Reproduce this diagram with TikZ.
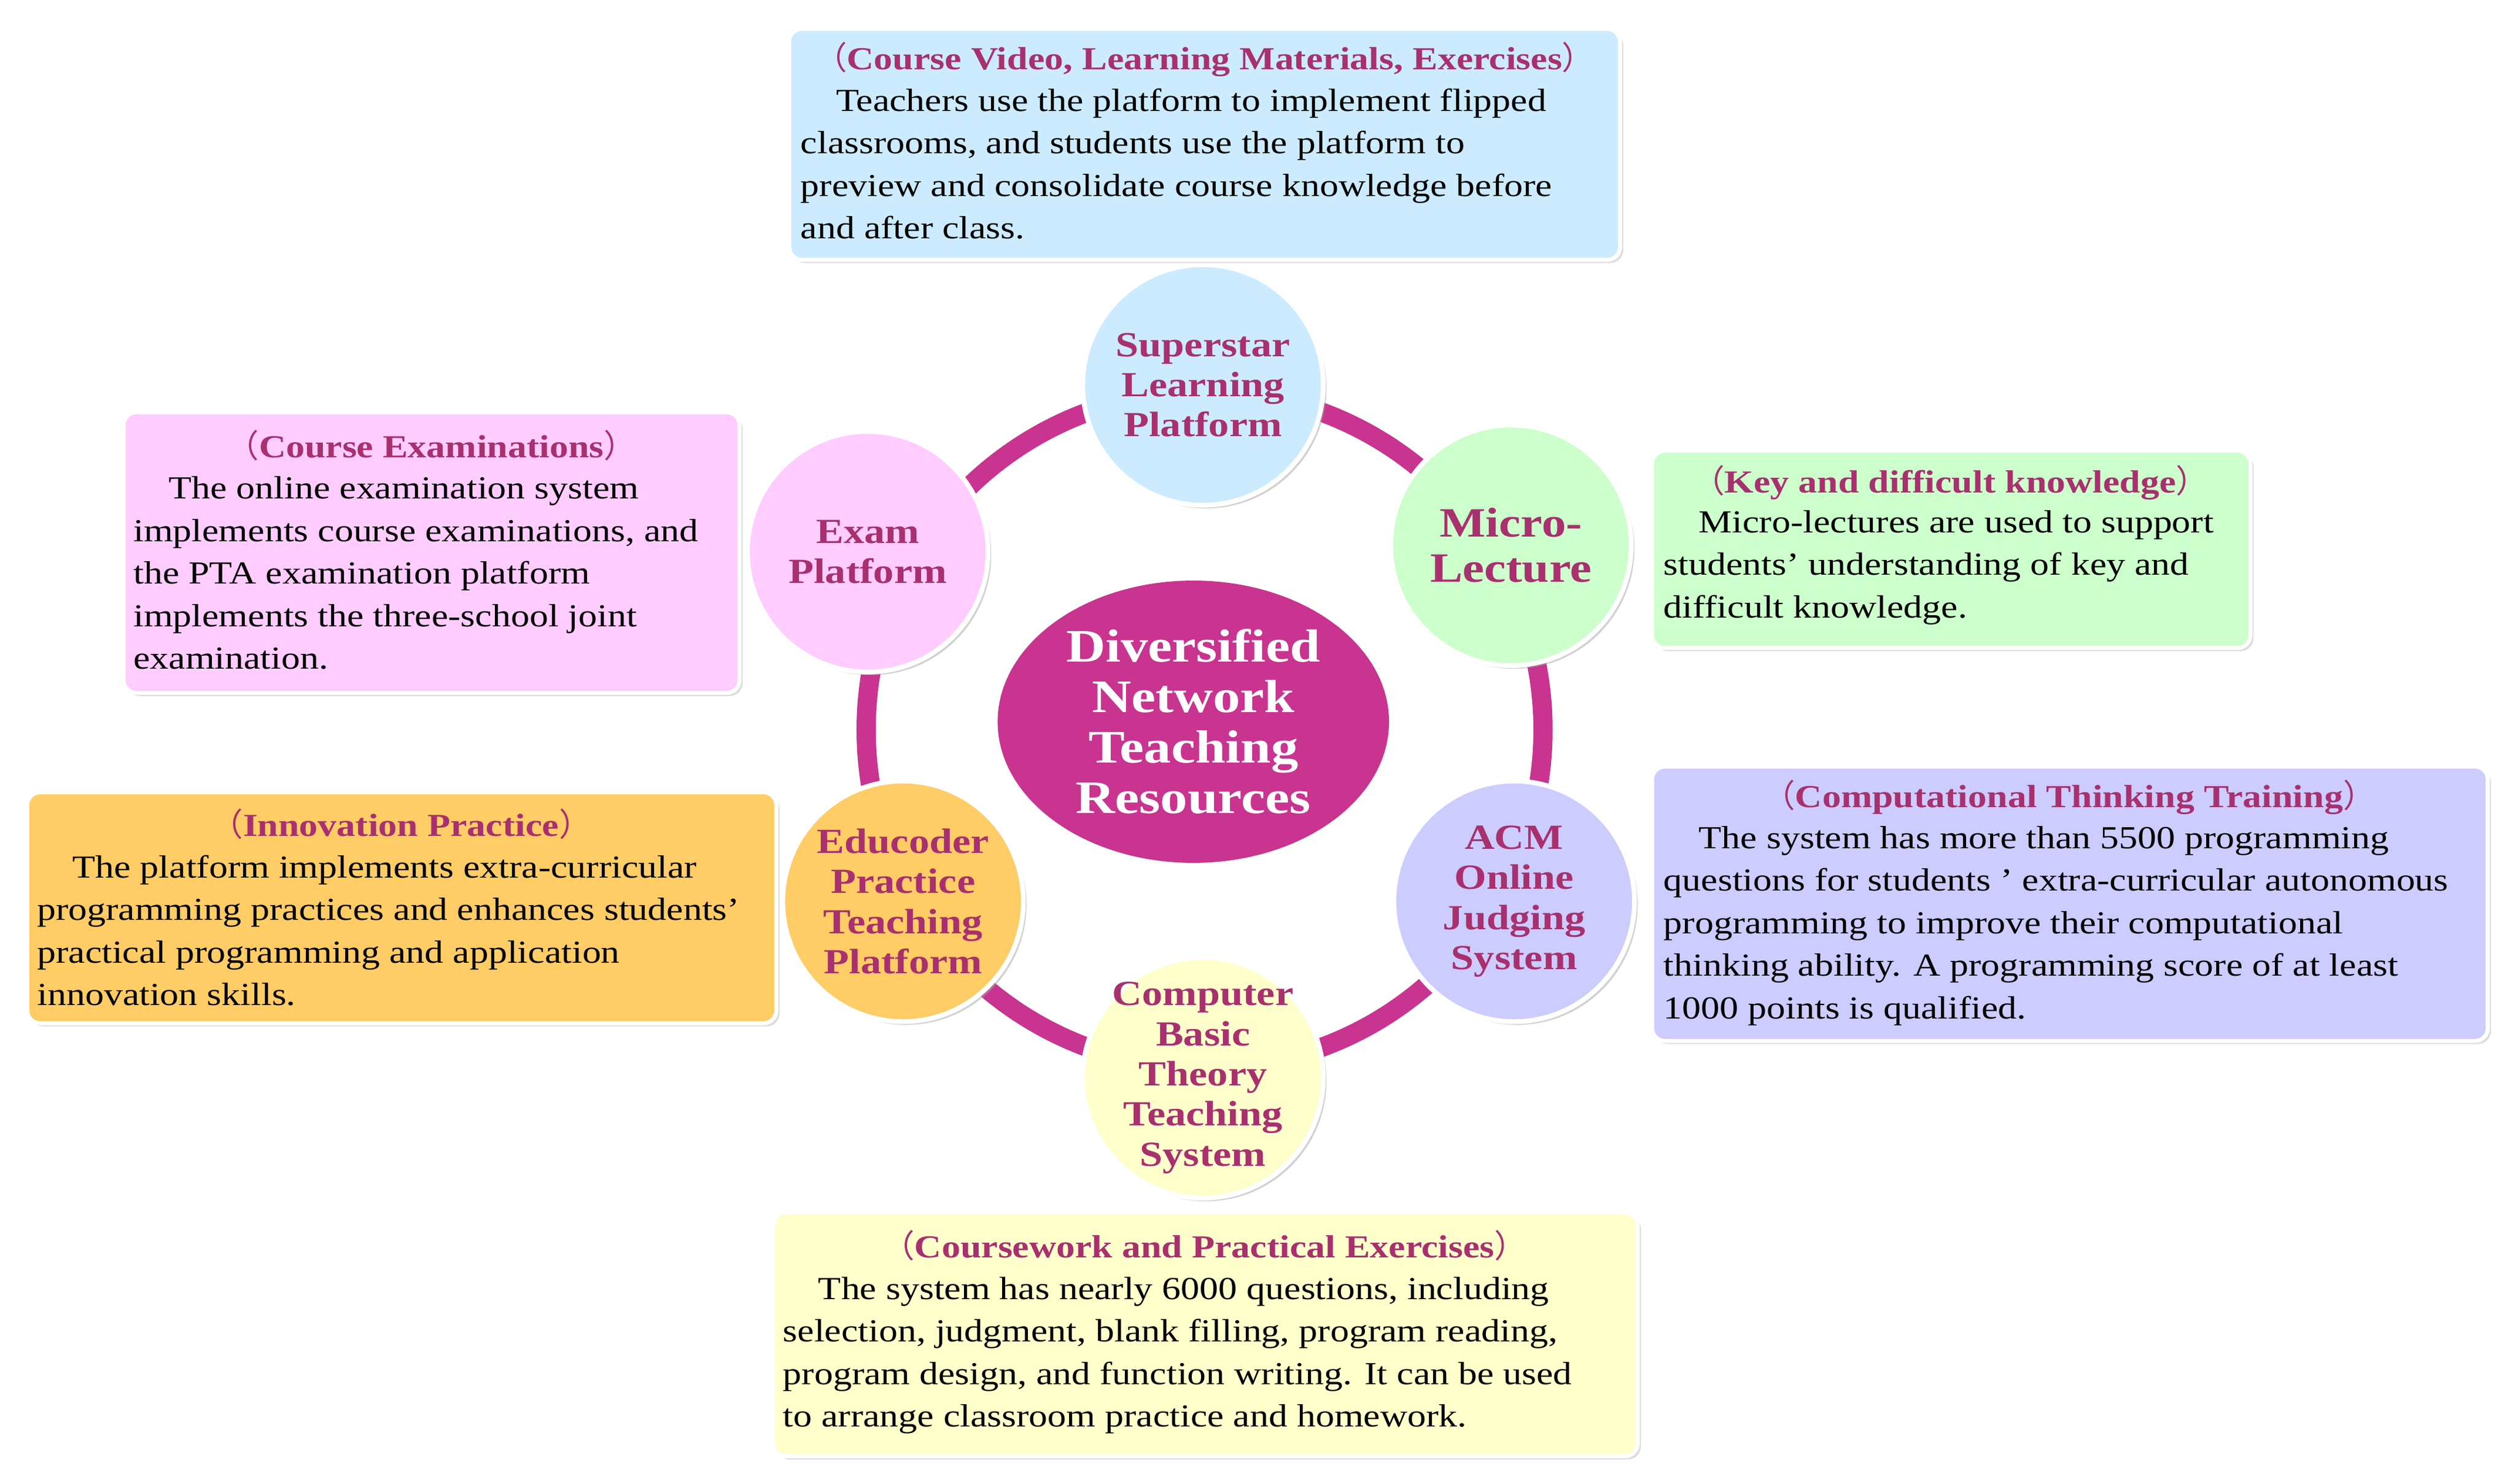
\documentclass[tikz,border=0pt]{standalone}
\usepackage{fontspec}
\setmainfont{Liberation Serif}[FakeStretch=1.17]
\newfontfamily\cjk{Noto Sans CJK SC}
\newcommand{\lp}{{\cjk\mdseries （}}
\newcommand{\rp}{{\cjk\mdseries ）}}
\usetikzlibrary{shadows,shapes.geometric}
\definecolor{mag}{HTML}{C8348F}
\definecolor{ttl}{HTML}{A8306E}
\definecolor{cblue}{HTML}{CCEBFF}
\definecolor{cgreen}{HTML}{CCFFCC}
\definecolor{clav}{HTML}{CCCCFF}
\definecolor{cyel}{HTML}{FFFFCC}
\definecolor{corg}{HTML}{FFCC66}
\definecolor{cpink}{HTML}{FFCCFF}
\begin{document}
\begin{tikzpicture}[x=1pt,y=-1pt,
 circ/.style={circle,minimum size=150pt,draw=white,line width=3pt,inner sep=0pt,align=center,text=ttl,font=\fontsize{22}{25}\selectfont\bfseries,drop shadow={shadow xshift=2pt,shadow yshift=-2pt,fill=black!35}},
 box/.style={rounded corners=8pt,draw=white,line width=2.5pt,drop shadow={shadow xshift=2pt,shadow yshift=-2pt,fill=black!25}},
 txt/.style={anchor=north west,align=left,inner sep=0pt,font=\fontsize{20}{26.5}\selectfont},
 hd/.style={anchor=north,inner sep=0pt,text=ttl,font=\fontsize{20}{26}\selectfont\bfseries}]
\useasboundingbox (0,0) rectangle (1568,925);
\fill[white] (0,0) rectangle (1568,925);
\draw[mag,line width=12pt] (751,455) circle (211);
\node[ellipse,fill=mag,minimum width=244pt,minimum height=176pt,inner sep=0pt,align=center,text=white,font=\fontsize{29}{31.5}\selectfont\bfseries] (c) at (744,450) {Diversified\\Network\\Teaching\\Resources};
\node[circ,fill=cblue] (s) at (750,240) {Superstar\\Learning\\Platform};
\node[circ,fill=cgreen,font=\fontsize{26}{28}\selectfont\bfseries] (m) at (942,340) {Micro-\\Lecture};
\node[circ,fill=clav] (a) at (944,562) {ACM\\Online\\Judging\\System};
\node[circ,fill=cyel,inner sep=-20pt] (t) at (750,672) {Computer\\Basic\\Theory\\Teaching\\System};
\node[circ,fill=corg] (e) at (563,562) {Educoder\\Practice\\Teaching\\Platform};
\node[circ,fill=cpink] (x) at (541,344) {Exam\\Platform};
% boxes
\draw[box,fill=cblue] (492,18) rectangle (1010,162);
\node[hd] (h1) at (751,26) {\lp Course Video, Learning Materials, Exercises\rp};
\node[txt] (b1) at (499,55) {\hspace*{22pt}Teachers use the platform to implement flipped\\classrooms, and students use the platform to\\preview and consolidate course knowledge before\\and after class.};
\draw[box,fill=cpink] (77,257) rectangle (461,432);
\node[hd] (h2) at (269,268) {\lp Course Examinations\rp};
\node[txt] (b2) at (83,297) {\hspace*{22pt}The online examination system\\implements course examinations, and\\the PTA examination platform\\implements the three-school joint\\examination.};
\draw[box,fill=cgreen] (1030,281) rectangle (1403,404);
\node[hd] (h3) at (1216,290) {\lp Key and difficult knowledge\rp};
\node[txt] (b3) at (1037,318) {\hspace*{22pt}Micro-lectures are used to support\\students' understanding of key and\\difficult knowledge.};
\draw[box,fill=corg] (17,494) rectangle (484,638);
\node[hd] (h4) at (250,504) {\lp Innovation Practice\rp};
\node[txt] (b4) at (23,533) {\hspace*{22pt}The platform implements extra-curricular\\programming practices and enhances students'\\practical programming and application\\innovation skills.};
\draw[box,fill=clav] (1030,478) rectangle (1551,649);
\node[hd] (h5) at (1290,486) {\lp Computational Thinking Training\rp};
\node[txt] (b5) at (1037,515) {\hspace*{22pt}The system has more than 5500 programming\\questions for students ' extra-curricular autonomous\\programming to improve their computational\\thinking ability. A programming score of at least\\1000 points is qualified.};
\draw[box,fill=cyel] (482,756) rectangle (1021,908);
\node[hd] (h6) at (751,767) {\lp Coursework and Practical Exercises\rp};
\node[txt] (b6) at (488,796) {\hspace*{22pt}The system has nearly 6000 questions, including\\selection, judgment, blank filling, program reading,\\program design, and function writing. It can be used\\to arrange classroom practice and homework.};
\end{tikzpicture}
\end{document}
